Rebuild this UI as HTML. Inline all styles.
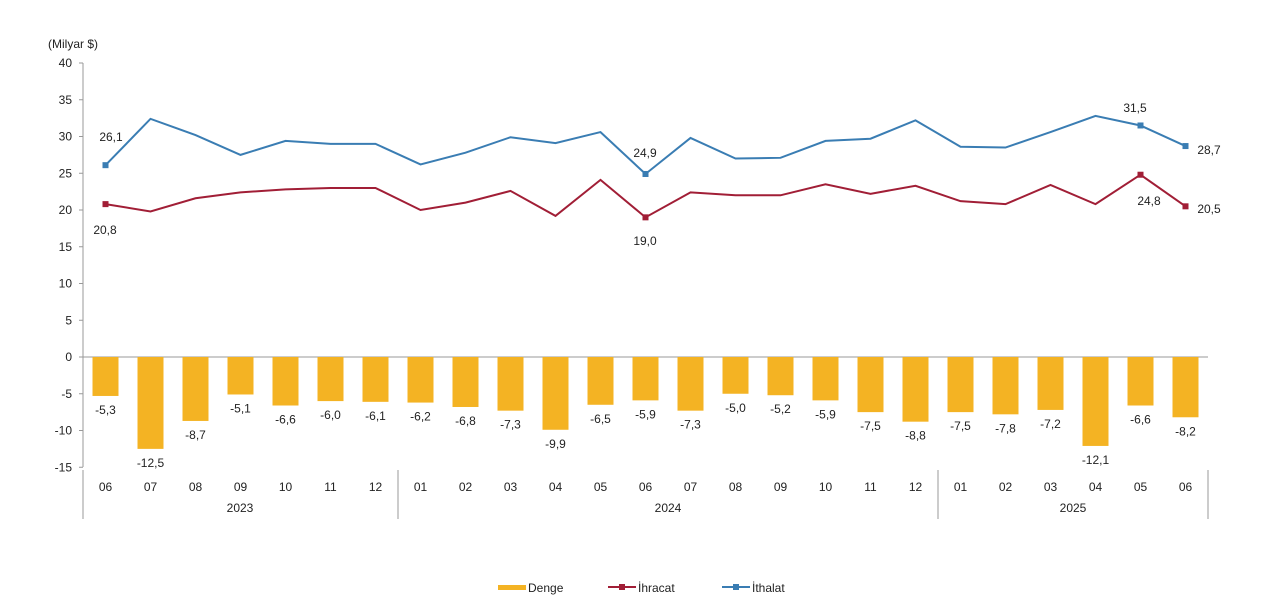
<!DOCTYPE html>
<html><head><meta charset="utf-8"><style>
body{margin:0;background:#fff;}
svg{display:block;font-family:"Liberation Sans",Arial,sans-serif;}
</style></head><body>
<svg id="c" width="1280" height="607" xmlns="http://www.w3.org/2000/svg"></svg>
<script>
const s=document.getElementById('c');let h='';
const y=v=>357-v*7.35, x=i=>105.5+i*45;
const D=[-5.3,-12.5,-8.7,-5.1,-6.6,-6.0,-6.1,-6.2,-6.8,-7.3,-9.9,-6.5,-5.9,-7.3,-5.0,-5.2,-5.9,-7.5,-8.8,-7.5,-7.8,-7.2,-12.1,-6.6,-8.2];
const I=[26.1,32.4,30.2,27.5,29.4,29.0,29.0,26.2,27.8,29.9,29.1,30.6,24.9,29.8,27.0,27.1,29.4,29.7,32.2,28.6,28.5,30.6,32.8,31.5,28.7];
const E=[20.8,19.8,21.6,22.4,22.8,23.0,23.0,20.0,21.0,22.6,19.2,24.1,19.0,22.4,22.0,22.0,23.5,22.2,23.3,21.2,20.8,23.4,20.8,24.8,20.5];
const M=['06','07','08','09','10','11','12','01','02','03','04','05','06','07','08','09','10','11','12','01','02','03','04','05','06'];
h+=`<text x="48" y="48" font-size="12" fill="#222">(Milyar $)</text>`;
for(let v=40;v>=-15;v-=5){h+=`<text x="72" y="${y(v)+4}" font-size="12" text-anchor="end" fill="#222">${v}</text><line x1="79" x2="83" y1="${y(v)}" y2="${y(v)}" stroke="#999"/>`;}
h+=`<line x1="83" x2="83" y1="63" y2="467" stroke="#999"/><line x1="83" x2="1208" y1="357" y2="357" stroke="#999"/>`;
D.forEach((d,i)=>{h+=`<rect x="${x(i)-13}" y="357" width="26" height="${-d*7.35}" fill="#F4B323"/>`;
h+=`<text x="${x(i)}" y="${y(d)+18}" font-size="12" text-anchor="middle" fill="#222">${d.toFixed(1).replace('.',',')}</text>`;
h+=`<text x="${x(i)}" y="491" font-size="12" text-anchor="middle" fill="#222">${M[i]}</text>`;});
[83,398,938,1208].forEach(a=>h+=`<line x1="${a}" x2="${a}" y1="470" y2="519" stroke="#999"/>`);
[['2023',240],['2024',668],['2025',1073]].forEach(t=>h+=`<text x="${t[1]}" y="512" font-size="12" text-anchor="middle" fill="#222">${t[0]}</text>`);
const pl=(a,c)=>{h+=`<polyline fill="none" stroke="${c}" stroke-width="2" points="${a.map((v,i)=>x(i)+','+y(v)).join(' ')}"/>`;[0,12,23,24].forEach(i=>h+=`<rect x="${x(i)-3}" y="${y(a[i])-3}" width="6" height="6" fill="${c}"/>`);};
pl(I,'#3A7DB3');pl(E,'#A11E36');
[['26,1',111,141],['20,8',105,234],['24,9',645,157],['19,0',645,245],['31,5',1135,112],['24,8',1149,205],['28,7',1209,154],['20,5',1209,213]].forEach(t=>h+=`<text x="${t[1]}" y="${t[2]}" font-size="12" text-anchor="middle" fill="#222">${t[0]}</text>`);
h+=`<rect x="498" y="585" width="28" height="5" fill="#F4B323"/><text x="528" y="592" font-size="12" fill="#222">Denge</text>`;
h+=`<line x1="608" x2="636" y1="587" y2="587" stroke="#A11E36" stroke-width="2"/><rect x="619" y="584" width="6" height="6" fill="#A11E36"/><text x="638" y="592" font-size="12" fill="#222">İhracat</text>`;
h+=`<line x1="722" x2="750" y1="587" y2="587" stroke="#3A7DB3" stroke-width="2"/><rect x="733" y="584" width="6" height="6" fill="#3A7DB3"/><text x="752" y="592" font-size="12" fill="#222">İthalat</text>`;
s.innerHTML=h;
</script>
</body></html>
